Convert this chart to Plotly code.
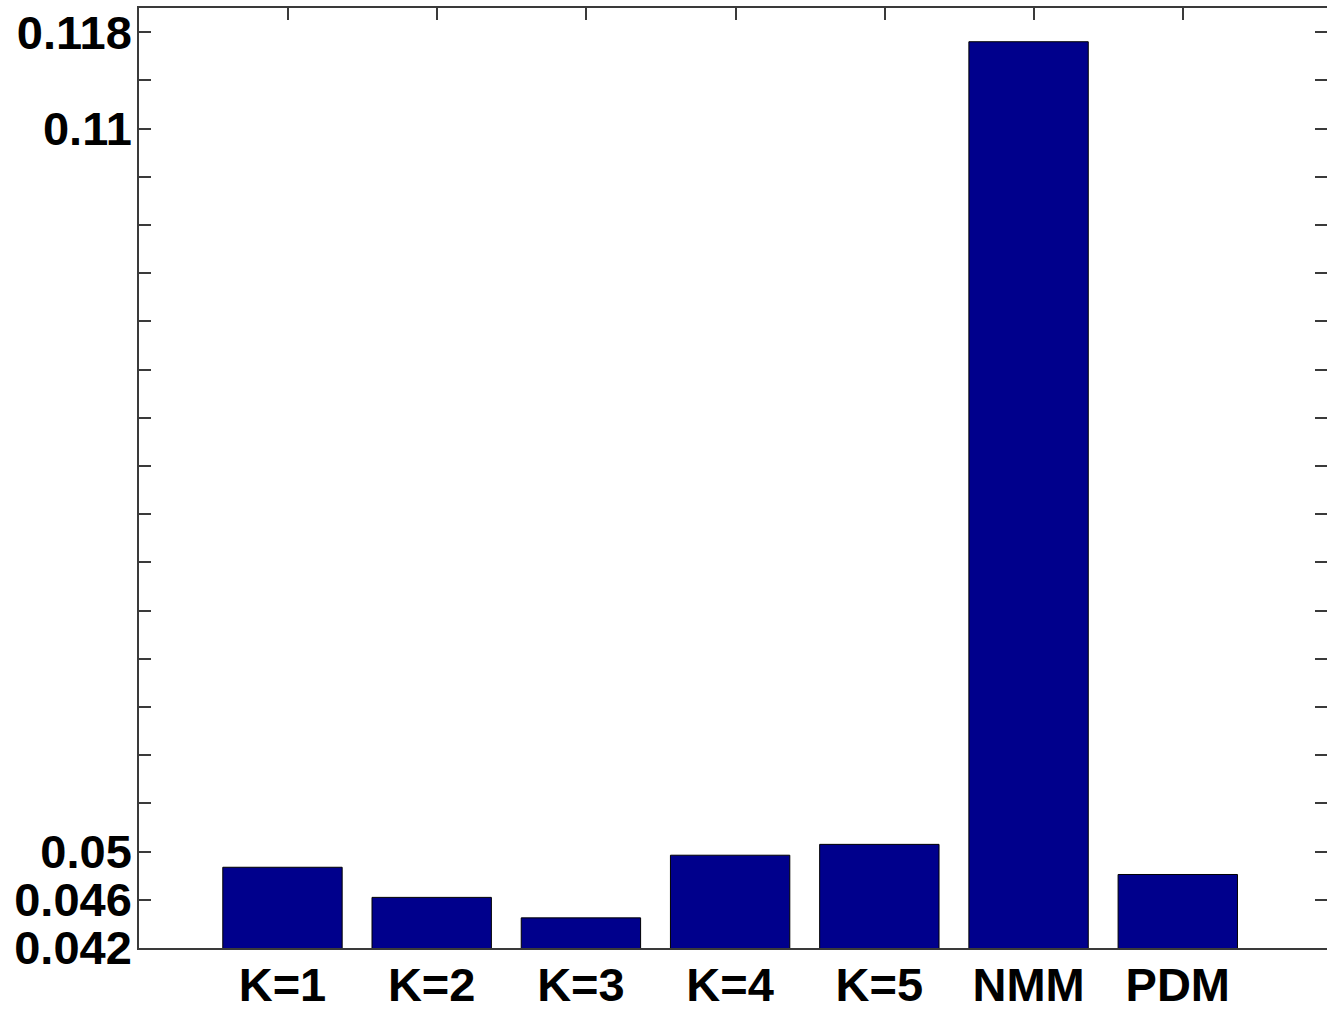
import plotly.graph_objects as go

categories = ["K=1", "K=2", "K=3", "K=4", "K=5", "NMM", "PDM"]
values = [0.0487, 0.0462, 0.0445, 0.0497, 0.0506, 0.1172, 0.0481]
positions = [1, 2, 3, 4, 5, 6, 7]

y_tickvals = [round(0.042 + 0.004 * i, 3) for i in range(20)]
y_labelled = {0.042: "0.042", 0.046: "0.046", 0.05: "0.05", 0.11: "0.11", 0.118: "0.118"}
y_ticktext = [y_labelled.get(v, "") for v in y_tickvals]

W, H = 1327, 1012
L, T, B = 139, 8, 64

font = dict(family="Liberation Sans, Arial, sans-serif", size=47, color="black", weight="bold")
axis_color = "#3a3a3a"

fig = go.Figure()
fig.add_trace(go.Bar(
    x=positions, y=values, width=0.8,
    marker=dict(color="#00008c", line=dict(color="black", width=1)),
    showlegend=False,
))
# invisible trace to activate top axis
fig.add_trace(go.Scatter(x=[None], y=[None], xaxis="x2", showlegend=False))

fig.update_layout(
    width=W, height=H,
    margin=dict(l=L, r=0, t=T, b=B, pad=0),
    paper_bgcolor="white", plot_bgcolor="white",
    xaxis=dict(
        range=[0.0385, 8.0], tickvals=positions, ticktext=categories,
        tickfont=font, showline=True, linecolor=axis_color, linewidth=1.5,
        ticks="", showgrid=False, zeroline=False, ticklabelstandoff=-5,
        automargin=False,
    ),
    xaxis2=dict(
        overlaying="x", side="top", range=[0.0035, 7.963], tickvals=positions,
        showticklabels=False, ticks="inside", ticklen=12, tickcolor=axis_color,
        tickwidth=1.5, showline=True, linecolor=axis_color, linewidth=1.5,
        showgrid=False, zeroline=False, automargin=False,
    ),
    yaxis=dict(
        range=[0.042, 0.12], tickvals=y_tickvals, ticktext=y_ticktext,
        tickfont=font, ticks="inside", ticklen=12, tickcolor=axis_color, tickwidth=1.5,
        showline=True, linecolor=axis_color, linewidth=1.5, mirror="ticks",
        showgrid=False, zeroline=False, ticklabelstandoff=-4, automargin=False,
    ),
)

fig.write_html("out.html")
